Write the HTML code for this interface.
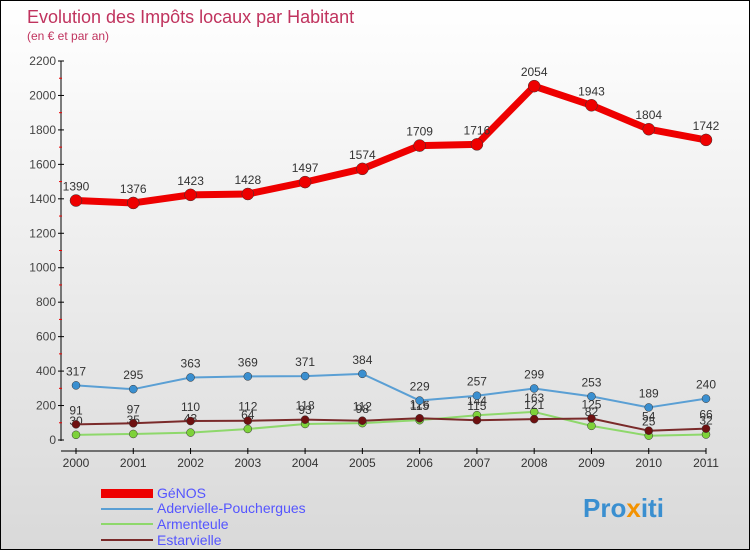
<!DOCTYPE html>
<html><head><meta charset="utf-8"><style>
body{margin:0;width:750px;height:550px;overflow:hidden;font-family:"Liberation Sans",sans-serif}
#wrap{position:relative;width:748px;height:548px;border:1px solid #000;background:linear-gradient(#fff,#d9d9d9)}
</style></head><body>
<div id="wrap">
<svg id="chart" width="748" height="548">
<text x="26" y="22" font-size="18" fill="#c0335e">Evolution des Impôts locaux par Habitant</text>
<text x="26" y="39" font-size="12" fill="#c0335e">(en € et par an)</text>
<g id="axes"></g><g id="series"></g>
<g font-size="14">
<rect x="100" y="488" width="52" height="9" fill="#e00"/>
<text x="156" y="497" fill="#55f">GéNOS</text>
<line x1="100" y1="508" x2="152" y2="508" stroke="#5a9fd4" stroke-width="2"/>
<text x="156" y="512" fill="#55f">Adervielle-Pouchergues</text>
<line x1="100" y1="523" x2="152" y2="523" stroke="#8ed86b" stroke-width="2"/>
<text x="156" y="528" fill="#55f">Armenteule</text>
<line x1="100" y1="539" x2="152" y2="539" stroke="#7a2a2a" stroke-width="2"/>
<text x="156" y="544" fill="#55f">Estarvielle</text>
</g>
<text x="582" y="516" font-size="26" font-weight="bold" fill="#3a8fd0">Pro<tspan fill="#f39200">x</tspan>iti</text>
</svg>
</div>
<script>
const years=["2000","2001","2002","2003","2004","2005","2006","2007","2008","2009","2010","2011"];
const yTicks=[0,200,400,600,800,1000,1200,1400,1600,1800,2000,2200];
const genos=[1390,1376,1423,1428,1497,1574,1709,1716,2054,1943,1804,1742];
const adervielle=[317,295,363,369,371,384,229,257,299,253,189,240];
const armenteule=[30,35,43,64,93,98,115,144,163,82,25,32];
const estarvielle=[91,97,110,112,118,112,126,115,121,125,54,66];
const NS="http://www.w3.org/2000/svg";
const X=i=>75+i*(630/11), Y=v=>439-v*379/2200;
function mk(t,a,p){const e=document.createElementNS(NS,t);for(const k in a)e.setAttribute(k,a[k]);p.appendChild(e);return e;}
const ax=document.getElementById('axes');
let l=mk('line',{x1:60,y1:60,x2:60,y2:440,stroke:'#000'},ax);


l=mk('line',{x1:60,y1:450,x2:705,y2:450,stroke:'#000'},ax);


yTicks.forEach((v,i)=>{
 mk('line',{x1:57,y1:Y(v),x2:63,y2:Y(v),stroke:'#000'},ax);
 if(i<yTicks.length-1) mk('line',{x1:58,y1:Y(v+100),x2:61,y2:Y(v+100),stroke:'#e00'},ax);
 const t=mk('text',{x:55,y:Y(v)+4,'font-size':12,'text-anchor':'end',fill:'#444'},ax);t.textContent=v;
 
 
});
years.forEach((y,i)=>{
 mk('line',{x1:X(i),y1:447,x2:X(i),y2:453,stroke:'#000'},ax);
 const t=mk('text',{x:X(i),y:466,'font-size':12,'text-anchor':'middle',fill:'#333'},ax);t.textContent=y;
 
 
});
const sg=document.getElementById('series');
function series(d,name,col,w,r,dot,lab){
 const g=mk('g',{},sg);
 
 
 mk('polyline',{points:d.map((v,i)=>X(i)+','+Y(v)).join(' '),fill:'none',stroke:col,'stroke-width':w,'stroke-linejoin':'round'},g);
 d.forEach((v,i)=>{
  const c=mk('circle',{cx:X(i),cy:Y(v),r:r,fill:dot,stroke:'#333','stroke-width':0.5},g);
  
  
  if(lab){const t=mk('text',{x:X(i),y:Y(v)-10,'font-size':12,'text-anchor':'middle',fill:'#333'},g);t.textContent=v;
  
  }
 });
}
series(armenteule,'armenteule','#8ed86b',2,4,'#7ed23a',true);
series(estarvielle,'estarvielle','#7a2a2a',2,4,'#6e1010',true);
series(adervielle,'adervielle','#5a9fd4',2,4,'#3a8fd0',true);
series(genos,'genos','#e00',7,6,'#e00',true);
</script>
</body></html>
